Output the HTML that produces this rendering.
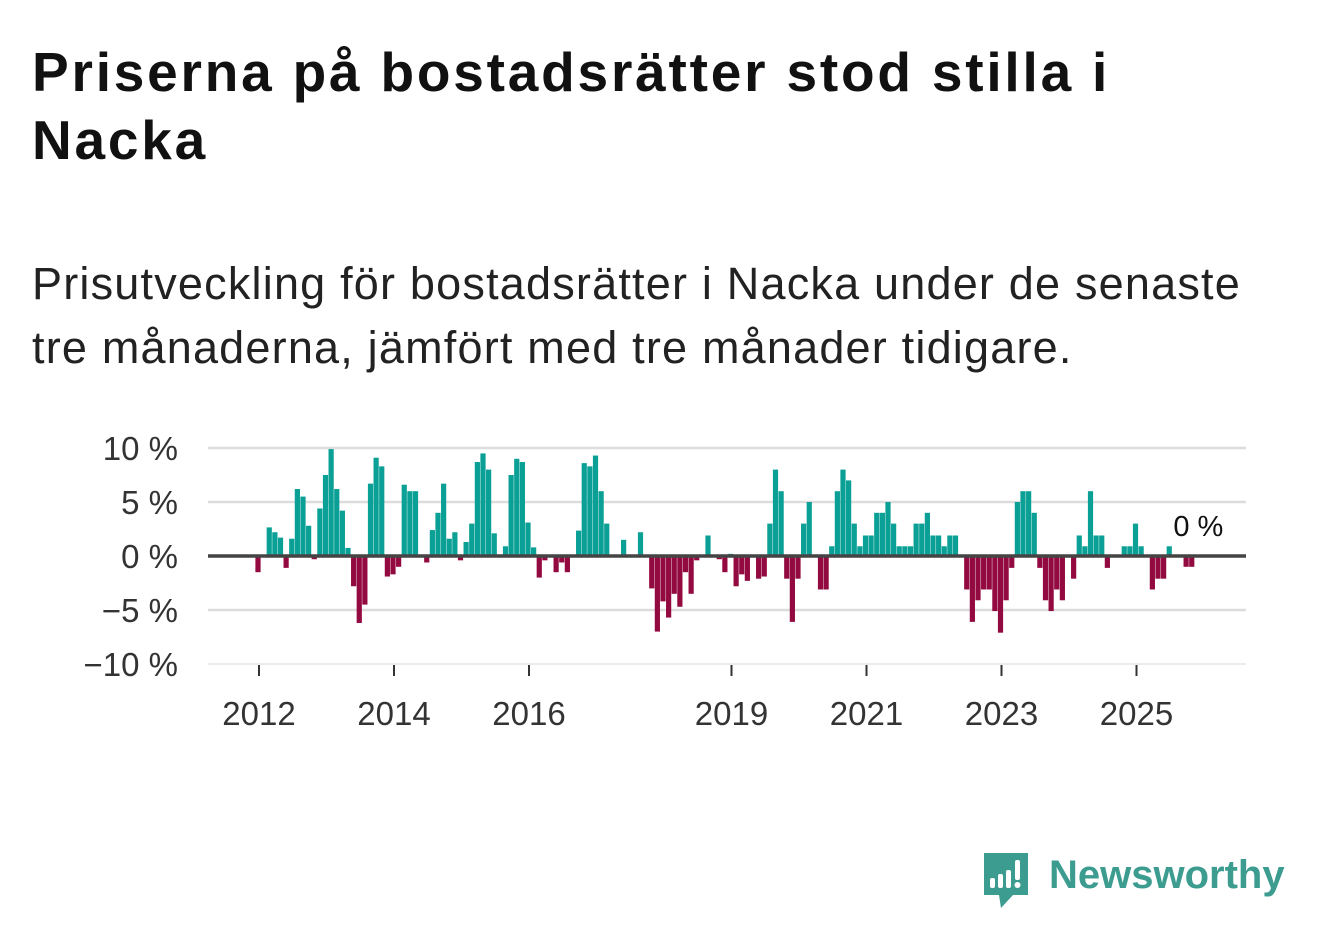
<!DOCTYPE html>
<html><head><meta charset="utf-8"><style>
html,body{margin:0;padding:0;background:#fff;width:1322px;height:939px;overflow:hidden;font-family:"Liberation Sans","DejaVu Sans",sans-serif;}
h1{position:absolute;left:32px;top:38px;margin:0;font-size:55px;line-height:68px;font-weight:bold;color:#111;width:1150px;letter-spacing:2.8px;}
p{position:absolute;left:32px;top:252px;margin:0;font-size:45px;line-height:64px;color:#222;width:1260px;letter-spacing:1.2px;}
svg{position:absolute;left:0;top:0;}
</style></head><body>
<h1>Priserna på bostadsrätter stod stilla i Nacka</h1>
<p>Prisutveckling för bostadsrätter i Nacka under de senaste tre månaderna, jämfört med tre månader tidigare.</p>
<svg id="chart" width="1322" height="939"></svg>
<div style="position:absolute;left:981px;top:850px;width:320px;height:60px;">
<svg width="52" height="60" style="position:absolute;left:0;top:0">
<path d="M3 3 H47 V45 H32 L20 58 L18 45 H3 Z" fill="#3d9c90"/>
<rect x="9" y="28" width="5" height="10" rx="2" fill="#fff"/><rect x="17" y="24" width="5" height="14" rx="2" fill="#fff"/><rect x="25" y="20" width="5" height="18" rx="2" fill="#fff"/><rect x="34" y="10" width="5" height="20" rx="2" fill="#fff"/><circle cx="36.5" cy="35" r="3" fill="#fff"/>
</svg>
<span style="position:absolute;left:68px;top:1px;font-size:40px;font-weight:bold;color:#3d9c90;line-height:48px;">Newsworthy</span>
</div>
<script>
const values = [-1.5,0,2.65,2.2,1.7,-1.1,1.6,6.2,5.5,2.8,-0.3,4.4,7.5,9.9,6.2,4.2,0.75,-2.8,-6.2,-4.5,6.7,9.1,8.3,-1.9,-1.7,-1.0,6.6,6.0,6.0,0,-0.6,2.4,4.0,6.7,1.6,2.2,-0.4,1.3,3.0,8.7,9.5,8.0,2.1,0,0.9,7.5,9.0,8.7,3.1,0.8,-2.0,-0.4,0,-1.5,-0.6,-1.5,0,2.35,8.6,8.3,9.3,6.0,3.0,0,0,1.5,0,0,2.2,0,-3.0,-7.0,-4.2,-5.7,-3.5,-4.7,-1.5,-3.5,-0.4,0,1.9,0,-0.3,-1.5,0.2,-2.8,-1.7,-2.3,0,-2.1,-1.9,3.0,8.0,6.0,-2.1,-6.1,-2.1,3.0,5.0,0,-3.1,-3.1,0.9,6.0,8.0,7.0,3.0,0.9,1.9,1.9,4.0,4.0,5.0,3.0,0.9,0.9,0.9,3.0,3.0,4.0,1.9,1.9,0.9,1.9,1.9,0,-3.1,-6.1,-4.1,-3.1,-3.1,-5.1,-7.1,-4.1,-1.1,5.0,6.0,6.0,4.0,-1.1,-4.1,-5.1,-3.1,-4.1,0,-2.1,1.9,0.9,6.0,1.9,1.9,-1.1,0,0,0.9,0.9,3.0,0.9,0,-3.1,-2.1,-2.1,0.9,0,0,-1.0,-1.0,0];
const startYear = 2012;
const yTicks = [10,5,0,-5,-10];
const yTickLabels = ["10 %","5 %","0 %","\u22125 %","\u221210 %"];
const xTickYears = [2012,2014,2016,2019,2021,2023,2025];
const lastLabel = "0 %";

const NS="http://www.w3.org/2000/svg";
const svg=document.getElementById('chart');
const X0=208,X1=1246;
function xScale(yearFrac){return 259+(yearFrac-2012)*67.5;}
function yScale(v){return 556-v*10.8;}
function mk(tag,attrs){const e=document.createElementNS(NS,tag);for(const k in attrs)e.setAttribute(k,attrs[k]);svg.appendChild(e);return e;}

yTicks.forEach((t,i)=>{
  if(t!==0){
    const g=mk('line',{x1:X0,x2:X1,y1:yScale(t),y2:yScale(t),stroke:t===-10?'#e6e6e6':'#dcdcdc','stroke-width':t===-10?1.5:2.5});
    
    
  }
  const tx=mk('text',{x:178,y:yScale(t)+12,'text-anchor':'end','font-size':33,fill:'#333','font-family':'Liberation Sans, sans-serif'});
  tx.textContent=yTickLabels[i];
  
  
});

values.forEach((v,k)=>{
  if(v===0)return;
  const cx=xScale(startYear+k/12)-1;
  const r=mk('rect',{x:cx-2.6,width:5.2,y:Math.min(yScale(v),556),height:Math.abs(yScale(v)-556),fill:v>0?'#0aa095':'#930a40'});
  
  
});

const zl=mk('line',{x1:X0,x2:X1,y1:556,y2:556,stroke:'#444','stroke-width':3.5});



xTickYears.forEach(yr=>{
  const x=xScale(yr);
  const t=mk('line',{x1:x,x2:x,y1:665,y2:676,stroke:'#333','stroke-width':2});
  
  
  const tx=mk('text',{x:x,y:725,'text-anchor':'middle','font-size':33,fill:'#333','font-family':'Liberation Sans, sans-serif'});
  tx.textContent=String(yr);
  
  
});

const lastX=xScale(startYear+(values.length-1)/12);
const ll=mk('text',{x:lastX,y:536,'text-anchor':'middle','font-size':29,fill:'#111','font-family':'Liberation Sans, sans-serif'});
ll.textContent=lastLabel;


</script>
</body></html>
